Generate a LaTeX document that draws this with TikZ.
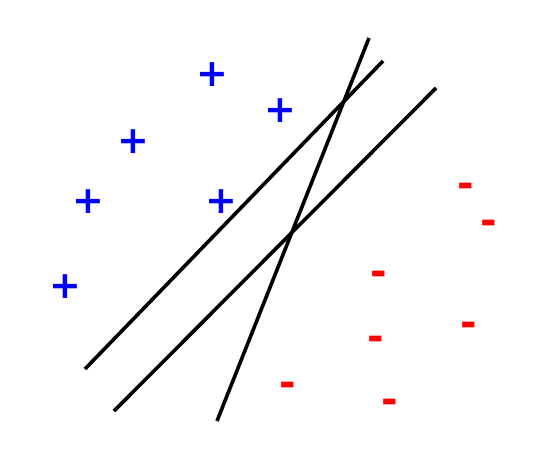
\documentclass[tikz,border=0pt]{standalone}
\usepackage{fontspec}
\setmainfont{DejaVu Sans}
\usetikzlibrary{positioning}
\tikzset{
  plusmark/.style={text=blue, font=\bfseries\fontsize{38}{38}\selectfont, inner sep=0pt, text height=27pt, text depth=0pt},
  minusmark/.style={text=red, font=\bfseries\fontsize{40}{40}\selectfont, inner sep=0pt, text height=24pt, text depth=0pt},
  sepline/.style={line width=3.6pt, black}
}

\begin{document}
\begin{tikzpicture}[x=1pt, y=-1pt]
\useasboundingbox (0,0) rectangle (548,468);

% 正例
\node[plusmark] (p1) at (212.7,72.7) {+};
\node[plusmark] (p2) at (280.7,109.3) {+};
\node[plusmark] (p3) at (133.3,140) {+};
\node[plusmark] (p4) at (88.3,200) {+};
\node[plusmark] (p5) at (221,200) {+};
\node[plusmark] (p6) at (65,285) {+};

% 負例
\node[minusmark] (n1) at (466,185.3) {-};
\node[minusmark] (n2) at (488.7,222.3) {-};
\node[minusmark] (n3) at (378.3,273.3) {-};
\node[minusmark] (n4) at (469,324.3) {-};
\node[minusmark] (n5) at (375.7,338.3) {-};
\node[minusmark] (n6) at (287.3,384.3) {-};
\node[minusmark] (n7) at (389.7,401.3) {-};

% 分離直線
\coordinate (a1) at (85,369);
\coordinate (a2) at (383,61);
\coordinate (b1) at (114,411);
\coordinate (b2) at (436,88);
\coordinate (c1) at (217,421);
\coordinate (c2) at (369,38);
\draw[sepline] (a1) -- (a2);
\draw[sepline] (b1) -- (b2);
\draw[sepline] (c1) -- (c2);

\end{tikzpicture}
\end{document}
